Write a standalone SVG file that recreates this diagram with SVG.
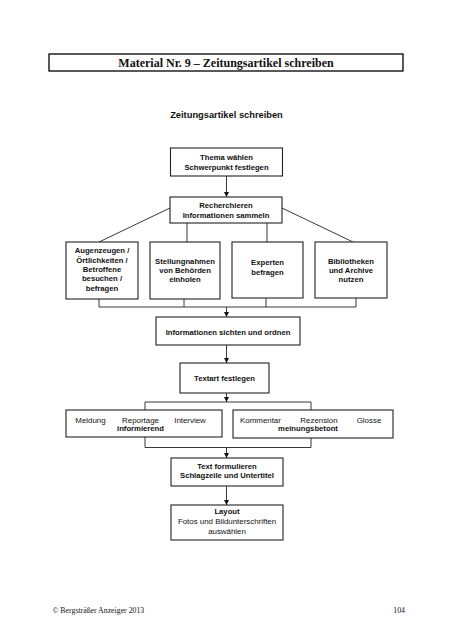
<svg xmlns="http://www.w3.org/2000/svg" width="453" height="640" viewBox="0 0 453 640">
<defs>
<marker id="ah" viewBox="0 0 10 10" refX="10" refY="5" markerUnits="userSpaceOnUse" markerWidth="5" markerHeight="5" orient="auto">
<path d="M0,0 L10,5 L0,10 z" fill="#111"/>
</marker>
<style>
.box{fill:#fff;stroke:#222;stroke-width:1.1}
.ln{fill:none;stroke:#222;stroke-width:0.9}
.ar{fill:none;stroke:#222;stroke-width:0.9;marker-end:url(#ah)}
.b{font-family:"Liberation Sans",Arial,sans-serif;font-weight:bold;font-size:7.7px;fill:#111;text-anchor:middle}
.r{font-family:"Liberation Sans",Arial,sans-serif;font-size:7.9px;fill:#111;text-anchor:middle}
.tm{font-family:"Liberation Serif","Times New Roman",serif;fill:#111}
</style>
</defs>
<rect width="453" height="640" fill="#fff"/>

<g id="header">
<rect x="49" y="54" width="354" height="17" fill="none" stroke="#000" stroke-width="1.3"/>
<text class="tm" x="226" y="66.5" font-size="12" font-weight="bold" text-anchor="middle">Material Nr. 9 – Zeitungsartikel schreiben</text>
</g>

<g id="subtitle">
<text x="226.5" y="118" font-family="Liberation Sans,Arial,sans-serif" font-weight="bold" font-size="9.3" text-anchor="middle" fill="#111">Zeitungsartikel schreiben</text>
</g>

<g id="connectors">
<line class="ar" x1="226.5" y1="176" x2="226.5" y2="197"/>
<line class="ln" x1="170" y1="208" x2="99" y2="242"/>
<line class="ln" x1="187" y1="223" x2="187" y2="242"/>
<line class="ln" x1="267" y1="223" x2="267" y2="242"/>
<line class="ln" x1="282" y1="208" x2="353" y2="242"/>
<polyline class="ln" points="99,299 99,307 356,307 356,298"/>
<line class="ln" x1="184" y1="299" x2="184" y2="307"/>
<line class="ln" x1="266" y1="298" x2="266" y2="307"/>
<line class="ar" x1="226.5" y1="307" x2="226.5" y2="317"/>
<line class="ar" x1="226.5" y1="345" x2="226.5" y2="363"/>
<line class="ar" x1="226.5" y1="393" x2="226.5" y2="402"/>
<polyline class="ln" points="145,410 145,402 311,402 311,410"/>
<polyline class="ln" points="145,437 145,447.5 311,447.5 311,438"/>
<line class="ar" x1="226.5" y1="447.5" x2="226.5" y2="458"/>
<line class="ar" x1="226.5" y1="486" x2="226.5" y2="505"/>
</g>

<g id="thema">
<rect class="box" x="170.5" y="148" width="112" height="28"/>
<text class="b" x="226.5" y="160">Thema wählen</text>
<text class="b" x="226.5" y="169.5">Schwerpunkt festlegen</text>
</g>

<g id="recherchieren">
<rect class="box" x="170" y="197" width="112" height="26"/>
<text class="b" x="226" y="208">Recherchieren</text>
<text class="b" x="226" y="217.5">Informationen sammeln</text>
</g>

<g id="augenzeugen">
<rect class="box" x="66" y="242" width="72" height="57"/>
<text class="b" x="102" y="253.4">Augenzeugen /</text>
<text class="b" x="102" y="262.7">Örtlichkeiten /</text>
<text class="b" x="102" y="272">Betroffene</text>
<text class="b" x="102" y="281.2">besuchen /</text>
<text class="b" x="102" y="290.5">befragen</text>
</g>

<g id="stellungnahmen">
<rect class="box" x="150" y="242" width="70" height="57"/>
<text class="b" x="185" y="263.7">Stellungnahmen</text>
<text class="b" x="185" y="272.8">von Behörden</text>
<text class="b" x="185" y="282">einholen</text>
</g>

<g id="experten">
<rect class="box" x="232" y="242" width="71" height="56"/>
<text class="b" x="267.5" y="265.4">Experten</text>
<text class="b" x="267.5" y="275">befragen</text>
</g>

<g id="bibliotheken">
<rect class="box" x="315" y="242" width="72" height="56"/>
<text class="b" x="351" y="263.7">Bibliotheken</text>
<text class="b" x="351" y="272.8">und Archive</text>
<text class="b" x="351" y="282">nutzen</text>
</g>

<g id="sichten">
<rect class="box" x="156" y="317" width="144" height="28"/>
<text class="b" x="228" y="334.5">Informationen sichten und ordnen</text>
</g>

<g id="textart">
<rect class="box" x="180" y="363" width="89" height="30"/>
<text class="b" x="224.5" y="380.7">Textart festlegen</text>
</g>

<g id="informierend">
<rect class="box" x="66" y="410" width="156" height="27"/>
<text class="r" x="90.5" y="422.5">Meldung</text>
<text class="r" x="140.5" y="422.5">Reportage</text>
<text class="r" x="190" y="422.5">Interview</text>
<text class="b" x="140.5" y="431">informierend</text>
</g>

<g id="meinungsbetont">
<rect class="box" x="233" y="410" width="160" height="28"/>
<text class="r" x="260.5" y="422.5">Kommentar</text>
<text class="r" x="319" y="422.5">Rezension</text>
<text class="r" x="369" y="422.5">Glosse</text>
<text class="b" x="308" y="431">meinungsbetont</text>
</g>

<g id="formulieren">
<rect class="box" x="171" y="458" width="112" height="28"/>
<text class="b" x="227" y="468.8">Text formulieren</text>
<text class="b" x="227" y="478.2">Schlagzeile und Untertitel</text>
</g>

<g id="layout">
<rect class="box" x="171" y="505" width="112" height="35"/>
<text class="b" x="227" y="513.8">Layout</text>
<text class="r" x="227" y="524.4">Fotos und Bildunterschriften</text>
<text class="r" x="227" y="534.4">auswählen</text>
</g>

<g id="footer">
<text class="tm" x="52.5" y="612.5" font-size="7.8">© Bergsträßer Anzeiger 2013</text>
<text class="tm" x="405" y="612.5" font-size="7.8" text-anchor="end">104</text>
</g>
</svg>
